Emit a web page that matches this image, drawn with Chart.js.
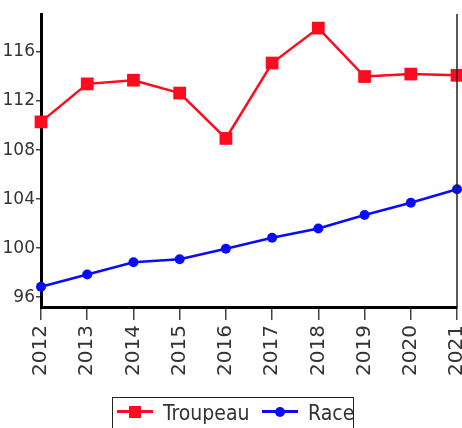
<!doctype html>
<html>
<head>
<meta charset="utf-8">
<title>Troupeau / Race</title>
<style>
  html, body { margin: 0; padding: 0; background: #fff; overflow: hidden; }
  #wrap { position: relative; width: 462px; height: 428px; }
  #legend {
    position: absolute; left: 112px; top: 397px; width: 242px; height: 40px;
    border: 1.5px solid #222; box-sizing: border-box; background: #fff;
    font-family: "DejaVu Sans Condensed", "DejaVu Sans", sans-serif; font-size: 21px; color: #333;
  }
  .item { position: absolute; top: 1px; height: 28px; line-height: 28px; }
  .sym { position: absolute; top: 12px; width: 36px; height: 3px; }
  .mk { position: absolute; }
</style>
</head>
<body>
<div id="wrap">
  <canvas id="c" width="462" height="428"></canvas>
  <div id="legend"></div>
</div>
<script src="https://cdn.jsdelivr.net/npm/chart.js"></script>
<script>
const years = ['2012', '2013', '2014', '2015', '2016', '2017', '2018', '2019', '2020', '2021'];
const troupeau = [110.3, 113.4, 113.7, 112.65, 108.95, 115.1, 117.95, 114.0, 114.2, 114.1];
const race = [96.85, 97.85, 98.85, 99.1, 99.95, 100.85, 101.6, 102.7, 103.7, 104.8];
const yTicks = [96, 100, 104, 108, 112, 116];
const seriesNames = ['Troupeau', 'Race'];

const RED = '#ff0a1e';
const BLUE = '#0a0aff';

// thin frame line on the right side of the plot
const rightEdge = {
  id: 'rightEdge',
  afterDraw(chart) {
    const { ctx, chartArea } = chart;
    ctx.save();
    ctx.strokeStyle = '#222';
    ctx.lineWidth = 1.5;
    ctx.beginPath();
    ctx.moveTo(chartArea.right, chartArea.top);
    ctx.lineTo(chartArea.right, chartArea.bottom);
    ctx.stroke();
    ctx.restore();
  }
};

new Chart(document.getElementById('c'), {
  type: 'line',
  data: {
    labels: years,
    datasets: [
      { label: seriesNames[0], data: troupeau, borderColor: RED, backgroundColor: RED,
        borderWidth: 2.5, pointStyle: 'rect', pointRadius: 9, pointBorderWidth: 0, tension: 0 },
      { label: seriesNames[1], data: race, borderColor: BLUE, backgroundColor: BLUE,
        borderWidth: 2.5, pointStyle: 'circle', pointRadius: 5, pointBorderWidth: 0, tension: 0 }
    ]
  },
  options: {
    responsive: false,
    animation: false,
    layout: { autoPadding: false, padding: { top: 14, right: 5, left: 0, bottom: 0 } },
    plugins: { legend: { display: false }, tooltip: { enabled: false } },
    scales: {
      x: {
        offset: false,
        grid: { drawOnChartArea: false, tickLength: 13, color: '#444', lineWidth: 1.5 },
        border: { color: '#000', width: 3 },
        ticks: { minRotation: 90, maxRotation: 90, padding: 5, color: '#333',
                 font: { family: 'DejaVu Sans', size: 20 } },
        afterFit(axis) { axis.height = 121; axis.paddingLeft = 0; axis.paddingRight = 0; }
      },
      y: {
        min: 95.2, max: 119.1,
        grid: { drawOnChartArea: false, tickLength: 5, color: '#444', lineWidth: 1.5 },
        border: { color: '#000', width: 3 },
        afterBuildTicks(axis) { axis.ticks = yTicks.map(v => ({ value: v })); },
        ticks: { padding: 1, color: '#333', font: { family: 'DejaVu Sans', size: 17 } },
        afterFit(axis) { axis.width = 41; axis.paddingTop = 0; axis.paddingBottom = 0; }
      }
    }
  },
  plugins: [rightEdge]
});

// legend built as html so it keeps the boxed look
const legend = document.getElementById('legend');
const items = [
  { name: seriesNames[0], color: RED, x: 4, textX: 50, square: true },
  { name: seriesNames[1], color: BLUE, x: 149, textX: 195, square: false }
];
items.forEach(it => {
  const sym = document.createElement('div');
  sym.className = 'sym';
  sym.style.left = it.x + 'px';
  sym.style.background = it.color;
  legend.appendChild(sym);
  const mk = document.createElement('div');
  mk.className = 'mk';
  const s = it.square ? 12 : 10;
  mk.style.width = s + 'px';
  mk.style.height = s + 'px';
  mk.style.left = (it.x + 18 - s / 2) + 'px';
  mk.style.top = (13.5 - s / 2) + 'px';
  mk.style.background = it.color;
  if (!it.square) mk.style.borderRadius = '50%';
  legend.appendChild(mk);
  const t = document.createElement('div');
  t.className = 'item';
  t.style.left = it.textX + 'px';
  t.textContent = it.name;
  legend.appendChild(t);
});
</script>
</body>
</html>
